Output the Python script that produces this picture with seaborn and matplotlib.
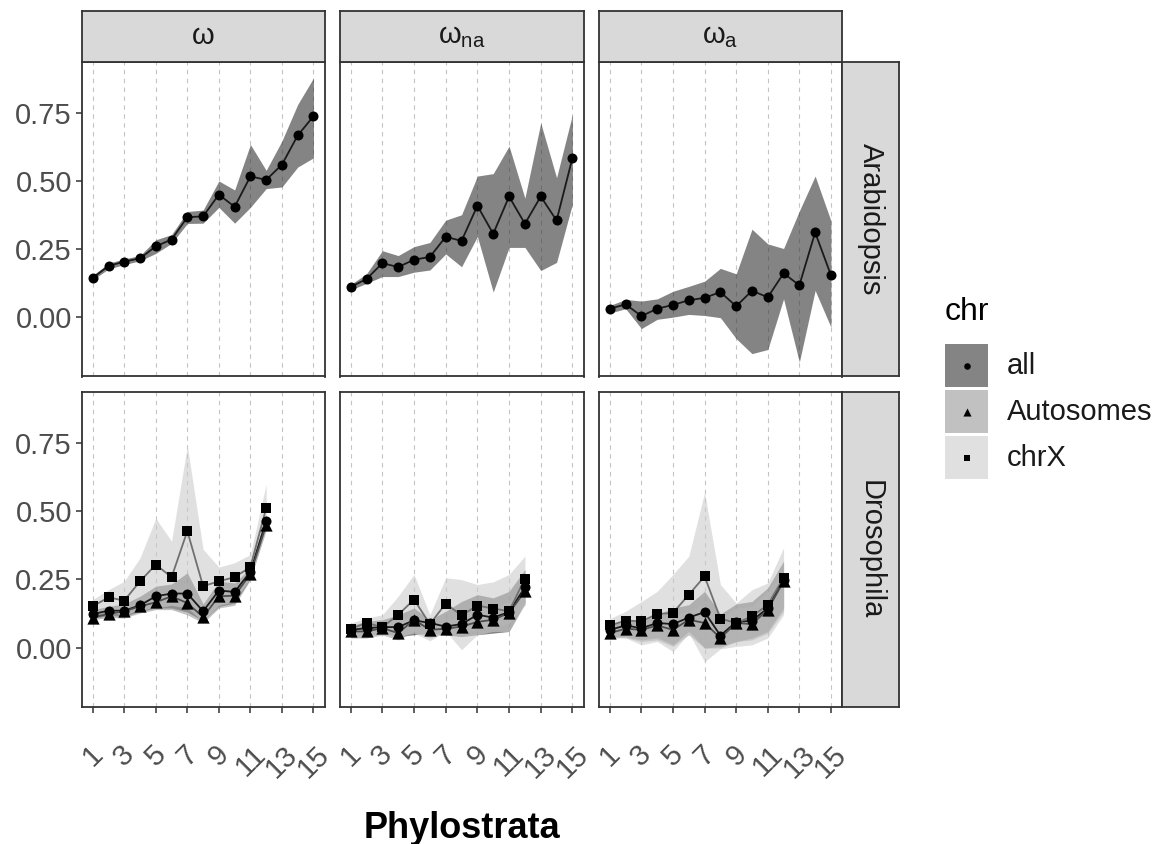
import matplotlib
matplotlib.use("Agg")
import matplotlib.pyplot as plt
from matplotlib.patches import Rectangle
import seaborn as sns
import pandas as pd

# ---- data ----
measures = ["omega", "omega_na", "omega_a"]
measure_labels = [r"$\omega$", r"$\omega_{na}$", r"$\omega_{a}$"]
species = ["Arabidopsis", "Drosophila"]
chrs = ["all", "Autosomes", "chrX"]

ps_arab = [1, 2, 3, 4, 5, 6, 7, 8, 9, 10, 11, 12, 13, 14, 15]
ps_dros = [1, 2, 3, 4, 5, 6, 7, 8, 9, 10, 11, 12]

xticks = [1, 3, 5, 7, 9, 11, 13, 15]
xtick_labels = ["1", "3", "5", "7", "9", "11", "13", "15"]
yticks = [0.0, 0.25, 0.5, 0.75]
ytick_labels = ["0.00", "0.25", "0.50", "0.75"]

# Arabidopsis (only chr = all)
arab_omega = [0.144, 0.188, 0.204, 0.216, 0.260, 0.285, 0.367, 0.370, 0.450, 0.405, 0.517, 0.504, 0.560, 0.667, 0.738]
arab_omega_lo = [0.137, 0.177, 0.193, 0.207, 0.234, 0.271, 0.344, 0.345, 0.403, 0.345, 0.403, 0.472, 0.478, 0.551, 0.585]
arab_omega_hi = [0.153, 0.198, 0.214, 0.226, 0.284, 0.303, 0.388, 0.393, 0.500, 0.467, 0.634, 0.539, 0.647, 0.781, 0.878]

arab_na = [0.111, 0.140, 0.198, 0.184, 0.211, 0.221, 0.295, 0.280, 0.409, 0.306, 0.443, 0.343, 0.443, 0.355, 0.584]
arab_na_lo = [0.100, 0.124, 0.149, 0.149, 0.165, 0.173, 0.232, 0.185, 0.296, 0.092, 0.256, 0.256, 0.171, 0.201, 0.415]
arab_na_hi = [0.120, 0.159, 0.244, 0.226, 0.259, 0.274, 0.356, 0.376, 0.518, 0.527, 0.628, 0.437, 0.713, 0.512, 0.744]

arab_a = [0.031, 0.047, 0.004, 0.031, 0.045, 0.062, 0.071, 0.092, 0.040, 0.097, 0.073, 0.161, 0.117, 0.311, 0.154]
arab_a_lo = [0.015, 0.031, -0.042, -0.008, 0.000, 0.010, 0.006, -0.002, -0.079, -0.134, -0.119, 0.067, -0.165, 0.098, -0.037]
arab_a_hi = [0.043, 0.065, 0.059, 0.067, 0.095, 0.113, 0.132, 0.179, 0.159, 0.323, 0.269, 0.252, 0.390, 0.518, 0.354]

# Drosophila, omega
dros_omega_all = [0.123, 0.135, 0.135, 0.155, 0.188, 0.198, 0.198, 0.133, 0.209, 0.204, 0.278, 0.464]
dros_omega_all_lo = [0.106, 0.118, 0.114, 0.133, 0.145, 0.145, 0.130, 0.098, 0.151, 0.163, 0.253, 0.437]
dros_omega_all_hi = [0.139, 0.151, 0.160, 0.188, 0.225, 0.233, 0.274, 0.160, 0.243, 0.237, 0.292, 0.489]
dros_omega_aut = [0.110, 0.123, 0.133, 0.151, 0.166, 0.188, 0.163, 0.112, 0.188, 0.190, 0.270, 0.449]
dros_omega_aut_lo = [0.102, 0.110, 0.108, 0.127, 0.139, 0.139, 0.120, 0.090, 0.145, 0.155, 0.249, 0.433]
dros_omega_aut_hi = [0.130, 0.145, 0.151, 0.169, 0.194, 0.209, 0.219, 0.145, 0.219, 0.219, 0.282, 0.470]
dros_omega_x = [0.151, 0.184, 0.172, 0.243, 0.304, 0.258, 0.427, 0.225, 0.243, 0.258, 0.295, 0.511]
dros_omega_x_lo = [0.123, 0.130, 0.120, 0.139, 0.145, 0.155, 0.145, 0.096, 0.155, 0.169, 0.256, 0.427]
dros_omega_x_hi = [0.176, 0.212, 0.243, 0.329, 0.474, 0.390, 0.740, 0.360, 0.295, 0.311, 0.341, 0.599]

# Drosophila, omega_na
dros_na_all = [0.065, 0.071, 0.075, 0.075, 0.100, 0.090, 0.077, 0.086, 0.120, 0.110, 0.130, 0.221]
dros_na_all_lo = [0.040, 0.040, 0.053, 0.040, 0.047, 0.053, 0.047, 0.040, 0.047, 0.053, 0.059, 0.163]
dros_na_all_hi = [0.081, 0.096, 0.102, 0.120, 0.145, 0.102, 0.133, 0.169, 0.194, 0.182, 0.206, 0.286]
dros_na_aut = [0.059, 0.059, 0.071, 0.053, 0.102, 0.065, 0.069, 0.077, 0.094, 0.102, 0.127, 0.206]
dros_na_aut_lo = [0.035, 0.035, 0.047, 0.028, 0.059, 0.035, 0.053, 0.047, 0.071, 0.071, 0.090, 0.157]
dros_na_aut_hi = [0.075, 0.086, 0.096, 0.102, 0.120, 0.083, 0.096, 0.120, 0.145, 0.145, 0.169, 0.243]
dros_na_x = [0.069, 0.090, 0.075, 0.120, 0.176, 0.086, 0.161, 0.118, 0.154, 0.143, 0.133, 0.253]
dros_na_x_lo = [0.040, 0.040, 0.044, 0.040, 0.053, 0.025, 0.059, -0.008, 0.047, 0.059, 0.059, 0.157]
dros_na_x_hi = [0.090, 0.108, 0.120, 0.188, 0.268, 0.120, 0.256, 0.249, 0.231, 0.241, 0.268, 0.335]

# Drosophila, omega_a
dros_a_all = [0.065, 0.081, 0.071, 0.090, 0.086, 0.110, 0.130, 0.044, 0.094, 0.098, 0.145, 0.249]
dros_a_all_lo = [0.040, 0.040, 0.028, 0.036, 0.010, 0.059, -0.002, 0.004, 0.022, 0.035, 0.059, 0.145]
dros_a_all_hi = [0.086, 0.099, 0.096, 0.120, 0.145, 0.157, 0.206, 0.123, 0.160, 0.169, 0.219, 0.317]
dros_a_aut = [0.053, 0.069, 0.065, 0.081, 0.065, 0.102, 0.090, 0.035, 0.090, 0.086, 0.139, 0.243]
dros_a_aut_lo = [0.035, 0.036, 0.022, 0.028, 0.004, 0.047, -0.002, -0.002, 0.022, 0.028, 0.053, 0.133]
dros_a_aut_hi = [0.077, 0.090, 0.086, 0.106, 0.120, 0.133, 0.157, 0.106, 0.145, 0.151, 0.204, 0.292]
dros_a_x = [0.081, 0.099, 0.096, 0.123, 0.127, 0.194, 0.261, 0.106, 0.090, 0.114, 0.157, 0.256]
dros_a_x_lo = [0.040, 0.035, 0.010, 0.022, -0.015, 0.053, -0.052, -0.005, 0.004, 0.010, 0.035, 0.120]
dros_a_x_hi = [0.106, 0.133, 0.169, 0.206, 0.268, 0.335, 0.569, 0.231, 0.163, 0.212, 0.237, 0.366]

# ---- long table ----
rows = []


def add(sp, meas, chrom, xs, mid, lo, hi):
    for x, m, l, h in zip(xs, mid, lo, hi):
        rows.append(dict(species=sp, measure=meas, chr=chrom, ps=x, value=m, lower=l, upper=h))


add("Arabidopsis", "omega", "all", ps_arab, arab_omega, arab_omega_lo, arab_omega_hi)
add("Arabidopsis", "omega_na", "all", ps_arab, arab_na, arab_na_lo, arab_na_hi)
add("Arabidopsis", "omega_a", "all", ps_arab, arab_a, arab_a_lo, arab_a_hi)
add("Drosophila", "omega", "all", ps_dros, dros_omega_all, dros_omega_all_lo, dros_omega_all_hi)
add("Drosophila", "omega", "Autosomes", ps_dros, dros_omega_aut, dros_omega_aut_lo, dros_omega_aut_hi)
add("Drosophila", "omega", "chrX", ps_dros, dros_omega_x, dros_omega_x_lo, dros_omega_x_hi)
add("Drosophila", "omega_na", "all", ps_dros, dros_na_all, dros_na_all_lo, dros_na_all_hi)
add("Drosophila", "omega_na", "Autosomes", ps_dros, dros_na_aut, dros_na_aut_lo, dros_na_aut_hi)
add("Drosophila", "omega_na", "chrX", ps_dros, dros_na_x, dros_na_x_lo, dros_na_x_hi)
add("Drosophila", "omega_a", "all", ps_dros, dros_a_all, dros_a_all_lo, dros_a_all_hi)
add("Drosophila", "omega_a", "Autosomes", ps_dros, dros_a_aut, dros_a_aut_lo, dros_a_aut_hi)
add("Drosophila", "omega_a", "chrX", ps_dros, dros_a_x, dros_a_x_lo, dros_a_x_hi)
df = pd.DataFrame(rows)

# ---- style ----
sns.set_style("white")
plt.rcParams["font.family"] = ["Liberation Sans", "DejaVu Sans"]
plt.rcParams["mathtext.fontset"] = "custom"
plt.rcParams["mathtext.rm"] = "Liberation Sans"
plt.rcParams["mathtext.it"] = "Liberation Sans"

fill_cols = {"all": "#333333", "Autosomes": "#999999", "chrX": "#cccccc"}
line_cols = {"all": "#1a1a1a", "Autosomes": "#4d4d4d", "chrX": "#707070"}
marker_map = {"all": "o", "Autosomes": "^", "chrX": "s"}
marker_size = {"all": 52, "Autosomes": 78, "chrX": 52}
legend_size = {"all": 22, "Autosomes": 34, "chrX": 22}
edge = "#333333"

W, H = 1161, 844
fig = plt.figure(figsize=(W / 100, H / 100), dpi=100)


def frac(x0, y0, x1, y1):
    # pixel box (top-left origin) -> figure fraction rect
    return [x0 / W, 1 - y1 / H, (x1 - x0) / W, (y1 - y0) / H]


col_x = [(81.7, 324.5), (339.6, 583.5), (598.8, 842.0)]
row_y = [(61.7, 376.5), (391.7, 707.0)]

for i, sp in enumerate(species):
    for j, meas in enumerate(measures):
        x0, x1 = col_x[j]
        y0, y1 = row_y[i]
        ax = fig.add_axes(frac(x0, y0, x1, y1))
        sub = df[(df.species == sp) & (df.measure == meas)]
        present = [c for c in chrs if c in set(sub.chr)]
        for c in present:
            s = sub[sub.chr == c]
            ax.fill_between(s.ps, s.lower, s.upper, color=fill_cols[c], alpha=0.6, lw=0, zorder=1)
        sns.lineplot(data=sub, x="ps", y="value", hue="chr", hue_order=present,
                     palette={c: line_cols[c] for c in present}, estimator=None,
                     lw=1.3, legend=False, ax=ax, zorder=2)
        for c in present:
            sns.scatterplot(data=sub[sub.chr == c], x="ps", y="value", marker=marker_map[c],
                            color="black", s=marker_size[c], linewidth=0, legend=False,
                            ax=ax, zorder=3)
        ax.set_xlim(0.3, 15.7)
        ax.set_ylim(-0.218, 0.938)
        ax.set_xticks(xticks)
        ax.set_yticks(yticks)
        ax.set_axisbelow(True)
        ax.grid(axis="x", color="#c4c4c4", ls=(0, (4, 4)), lw=0.8)
        ax.grid(axis="y", visible=False)
        ax.set_xlabel("")
        ax.set_ylabel("")
        for sp_ in ax.spines.values():
            sp_.set_color(edge)
            sp_.set_linewidth(1.3)
        ax.tick_params(axis="both", length=4, width=1.1, color=edge,
                       labelcolor="#4d4d4d", labelsize=21, direction="out")
        if i == 1:
            ax.set_xticklabels(xtick_labels, rotation=45, ha="center", va="top")
            ax.tick_params(axis="x", bottom=True, labelbottom=True, pad=20)
        else:
            ax.tick_params(axis="x", bottom=False, labelbottom=False)
        if j == 0:
            ax.set_yticklabels(ytick_labels)
            ax.tick_params(axis="y", left=True, labelleft=True, pad=3)
        else:
            ax.tick_params(axis="y", left=False, labelleft=False)

# top strips
for j, lab in enumerate(measure_labels):
    x0, x1 = col_x[j]
    sax = fig.add_axes(frac(x0, 11, x1, 61.7))
    sax.set_facecolor("#d9d9d9")
    sax.set_xticks([])
    sax.set_yticks([])
    for sp_ in sax.spines.values():
        sp_.set_color(edge)
        sp_.set_linewidth(1.3)
    sax.text(0.5, 0.5, lab, ha="center", va="center", fontsize=21, color="#1a1a1a",
             transform=sax.transAxes)

# right strips
for i, sp in enumerate(species):
    y0, y1 = row_y[i]
    sax = fig.add_axes(frac(842.0, y0, 899.3, y1))
    sax.set_facecolor("#d9d9d9")
    sax.set_xticks([])
    sax.set_yticks([])
    for sp_ in sax.spines.values():
        sp_.set_color(edge)
        sp_.set_linewidth(1.3)
    sax.text(0.5, 0.5, sp, ha="center", va="center", rotation=-90, fontsize=21,
             color="#1a1a1a", transform=sax.transAxes)

# overlay for legend and axis title (pixel coords)
ov = fig.add_axes([0, 0, 1, 1])
ov.set_xlim(0, W)
ov.set_ylim(H, 0)
ov.axis("off")

ov.text(461.9, 828, "Phylostrata", ha="center", va="center", fontsize=26,
        fontweight="bold", color="black")
ov.text(945, 320, "chr", ha="left", va="baseline", fontsize=23, color="black")
key_top = [344, 390, 436]
for c, yt in zip(chrs, key_top):
    ov.add_patch(Rectangle((945, yt), 43, 43, facecolor=fill_cols[c], alpha=0.6, lw=0))
    ov.scatter([966.5], [yt + 21.5], marker=marker_map[c], s=legend_size[c], color="black", linewidth=0)
    ov.text(1007, yt + 21.5, c, ha="left", va="center", fontsize=21, color="#1a1a1a")

fig.savefig("out.png", dpi=100)
